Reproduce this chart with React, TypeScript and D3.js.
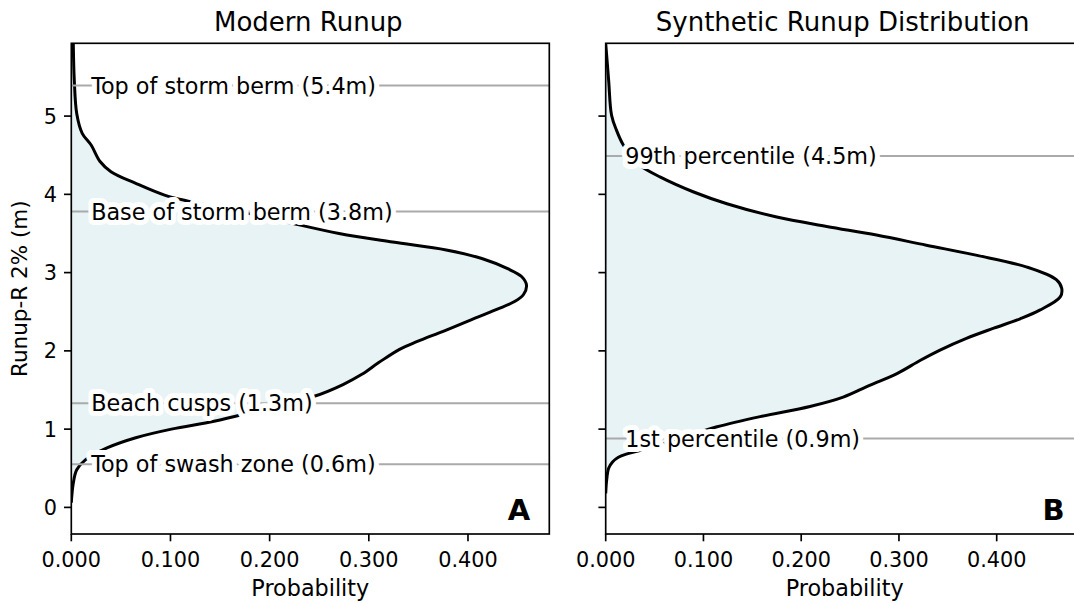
import React from "react";
import * as d3 from "d3";

// ---------- data ----------
const heightsA = [0.06, 0.31, 0.48, 0.61, 0.76, 0.89, 1.0, 1.1, 1.21, 1.32, 1.42, 1.57, 1.7, 1.85, 2.02, 2.12, 2.25, 2.38, 2.53, 2.63, 2.72, 2.84, 2.95, 3.05, 3.18, 3.29, 3.39, 3.5, 3.65, 3.78, 3.91, 3.99, 4.14, 4.29, 4.42, 4.63, 4.78, 5.03, 5.46, 5.93];
const probA = [0.0, 0.002, 0.0055, 0.0145, 0.036, 0.065, 0.101, 0.144, 0.18, 0.213, 0.245, 0.274, 0.293, 0.31, 0.331, 0.349, 0.375, 0.4, 0.429, 0.447, 0.456, 0.459, 0.454, 0.44, 0.414, 0.378, 0.324, 0.27, 0.216, 0.17, 0.119, 0.094, 0.065, 0.04, 0.029, 0.02, 0.011, 0.0055, 0.003, 0.002];

const heightsB = [0.18, 0.35, 0.5, 0.58, 0.64, 0.68, 0.72, 0.8, 0.93, 1.03, 1.16, 1.29, 1.41, 1.56, 1.71, 1.88, 2.01, 2.16, 2.29, 2.41, 2.52, 2.69, 2.8, 2.91, 3.07, 3.22, 3.35, 3.48, 3.59, 3.71, 3.88, 4.03, 4.22, 4.37, 4.5, 4.63, 4.82, 5.01, 5.46, 5.93];
const probB = [0.0, 0.001, 0.003, 0.007, 0.013, 0.021, 0.033, 0.055, 0.088, 0.114, 0.158, 0.209, 0.243, 0.27, 0.298, 0.322, 0.342, 0.369, 0.397, 0.424, 0.444, 0.465, 0.4665, 0.461, 0.431, 0.38, 0.328, 0.277, 0.226, 0.175, 0.124, 0.09, 0.056, 0.035, 0.026, 0.018, 0.011, 0.006, 0.003, 0.0];

const markerLabelsA = ["Top of storm berm (5.4m)", "Base of storm berm (3.8m)", "Beach cusps (1.3m)", "Top of swash zone (0.6m)"];
const markerValuesA = [5.39, 3.78, 1.33, 0.55];
const markerLabelsB = ["99th percentile (4.5m)", "1st percentile (0.9m)"];
const markerValuesB = [4.49, 0.88];

const yTicks = [0, 1, 2, 3, 4, 5];
const xTicks = [0, 0.1, 0.2, 0.3, 0.4];
const titles = ["Modern Runup", "Synthetic Runup Distribution"];
const panelLetters = ["A", "B"];

// ---------- layout ----------
const W = 1074;
const H = 603;
const TOP = 43.3;
const BOTTOM = 534;
const FONT = "DejaVu Sans, Verdana, sans-serif";
const FILL = "#e7f3f5";

const yScale = d3.scaleLinear().domain([-0.34, 5.93]).range([BOTTOM, TOP]);

type PanelProps = {
  idx: number;
  left: number;
  right: number;
  xMax: number;
  heights: number[];
  probs: number[];
  labels: string[];
  values: number[];
  showYLabels: boolean;
};

function Panel({ idx, left, right, xMax, heights, probs, labels, values, showYLabels }: PanelProps) {
  const x = d3.scaleLinear().domain([0, xMax]).range([left, right]);
  const pts: [number, number][] = heights.map((h, i) => [probs[i], h]);
  const line = d3
    .line<[number, number]>()
    .x((d) => x(d[0]))
    .y((d) => yScale(d[1]))
    .curve(d3.curveCatmullRom.alpha(0.5));
  const area = d3
    .area<[number, number]>()
    .x0(() => x(0))
    .x1((d) => x(d[0]))
    .y((d) => yScale(d[1]))
    .curve(d3.curveCatmullRom.alpha(0.5));
  const clipId = `clip${idx}`;
  const tickLen = 7.3;
  return (
    <g>
      <defs>
        <clipPath id={clipId}>
          <rect x={left} y={TOP} width={right - left} height={BOTTOM - TOP} />
        </clipPath>
      </defs>
      <g clipPath={`url(#${clipId})`}>
        <path d={area(pts) || ""} fill={FILL} />
        <path d={line(pts) || ""} fill="none" stroke="#000" strokeWidth={3} strokeLinejoin="round" />
        {values.map((v, i) => (
          <line key={i} x1={left} x2={right} y1={yScale(v)} y2={yScale(v)} stroke="#aaaaaa" strokeWidth={2} />
        ))}
        {values.map((v, i) => (
          <text
            key={"t" + i}
            x={x(0.02)}
            y={yScale(v)}
            dy="0.36em"
            fontSize={22.3}
            fontFamily={FONT}
            fill="#000"
            stroke="#fff"
            strokeWidth={10}
            strokeLinejoin="round"
            paintOrder="stroke"
          >
            {labels[i]}
          </text>
        ))}
      </g>
      {/* frame */}
      <rect x={left} y={TOP} width={right - left} height={BOTTOM - TOP} fill="none" stroke="#000" strokeWidth={1.67} />
      {/* y ticks */}
      {yTicks.map((t) => (
        <g key={"y" + t}>
          <line x1={left - tickLen} x2={left} y1={yScale(t)} y2={yScale(t)} stroke="#000" strokeWidth={1.67} />
          {showYLabels && (
            <text x={left - tickLen - 7} y={yScale(t)} dy="0.36em" textAnchor="end" fontSize={20.8} fontFamily={FONT}>
              {t}
            </text>
          )}
        </g>
      ))}
      {/* x ticks */}
      {xTicks.map((t) => (
        <g key={"x" + t}>
          <line x1={x(t)} x2={x(t)} y1={BOTTOM} y2={BOTTOM + tickLen} stroke="#000" strokeWidth={1.67} />
          <text x={x(t)} y={567} textAnchor="middle" fontSize={20.8} fontFamily={FONT}>
            {d3.format(".3f")(t)}
          </text>
        </g>
      ))}
      <text x={(left + right) / 2} y={596} textAnchor="middle" fontSize={22.3} fontFamily={FONT}>
        Probability
      </text>
      <text x={(left + right) / 2 - 2} y={31} textAnchor="middle" fontSize={26} fontFamily={FONT}>
        {titles[idx]}
      </text>
      <text x={right - 19} y={520} textAnchor="end" fontSize={29} fontWeight="bold" fontFamily={FONT}>
        {panelLetters[idx]}
      </text>
    </g>
  );
}

export default function App() {
  return (
    <svg
      width={W}
      height={H}
      style={{ position: "absolute", left: 0, top: 0, background: "#fff" }}
      xmlns="http://www.w3.org/2000/svg"
    >
      <rect x={0} y={0} width={W} height={H} fill="#fff" />
      <Panel
        idx={0}
        left={71.3}
        right={549.3}
        xMax={0.482}
        heights={heightsA}
        probs={probA}
        labels={markerLabelsA}
        values={markerValuesA}
        showYLabels={true}
      />
      <Panel
        idx={1}
        left={605.7}
        right={1083.7}
        xMax={0.489}
        heights={heightsB}
        probs={probB}
        labels={markerLabelsB}
        values={markerValuesB}
        showYLabels={false}
      />
      <text
        transform={`translate(27, ${(TOP + BOTTOM) / 2}) rotate(-90)`}
        textAnchor="middle"
        fontSize={21.5}
        fontFamily={FONT}
      >
        Runup-R 2% (m)
      </text>
    </svg>
  );
}
